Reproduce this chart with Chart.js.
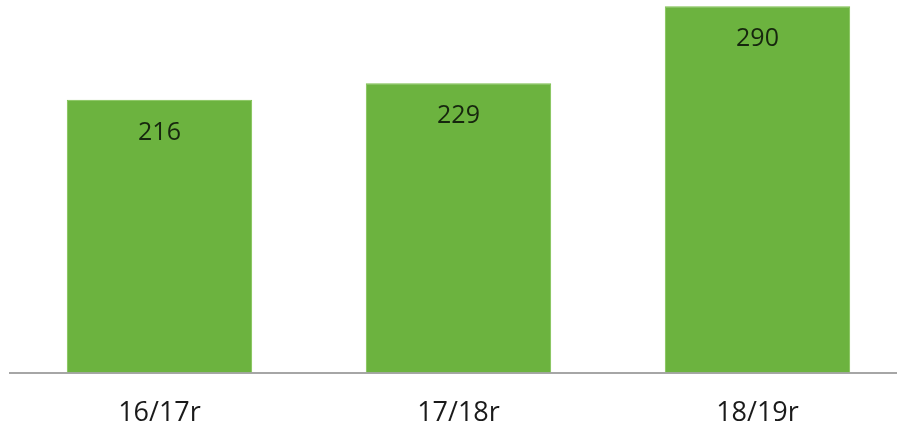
<!DOCTYPE html>
<html>
<head>
<meta charset="utf-8">
<script src="https://cdn.jsdelivr.net/npm/chart.js@4/dist/chart.umd.min.js"></script>
<style>
  html, body { margin: 0; padding: 0; background: #fff; overflow: hidden; }
  #wrap { position: absolute; left: 0; top: 0; width: 907px; height: 434px; }
</style>
</head>
<body>
<div id="wrap"><canvas id="chart"></canvas></div>
<script>
// Categorias e valores
const seasons = ['16/17r', '17/18r', '18/19r'];
const totals = [216, 229, 290];

// Rótulos de valor dentro das barras
const valueLabels = {
    id: 'valueLabels',
    afterDatasetsDraw(chart) {
        const ctx = chart.ctx;
        const meta = chart.getDatasetMeta(0);
        ctx.save();
        ctx.font = '25px "Open Sans", sans-serif';
        ctx.fillStyle = '#16260e';
        ctx.textAlign = 'center';
        ctx.textBaseline = 'middle';
        meta.data.forEach((bar, i) => {
            ctx.fillText(totals[i], bar.x, bar.y + 33);
        });
        ctx.restore();
    }
};

new Chart(document.getElementById('chart'), {
    type: 'bar',
    data: {
        labels: seasons,
        datasets: [{
            data: totals,
            backgroundColor: '#6cb33f',
            borderColor: '#7cc04c',
            borderWidth: 1,
            barPercentage: 0.62,
            categoryPercentage: 1
        }]
    },
    options: {
        responsive: true,
        maintainAspectRatio: false,
        animation: false,
        layout: { padding: { left: 10, right: 0, top: 0, bottom: -13 } },
        plugins: {
            legend: { display: false },
            tooltip: { enabled: false }
        },
        scales: {
            x: {
                grid: { display: false },
                border: { display: true, color: '#a6a6a6', width: 2 },
                ticks: {
                    color: '#1a1a1a',
                    padding: 17,
                    font: { size: 27, family: '"Open Sans", sans-serif' }
                }
            },
            y: {
                display: false,
                min: 0,
                max: 295
            }
        }
    },
    plugins: [valueLabels]
});
</script>
</body>
</html>
